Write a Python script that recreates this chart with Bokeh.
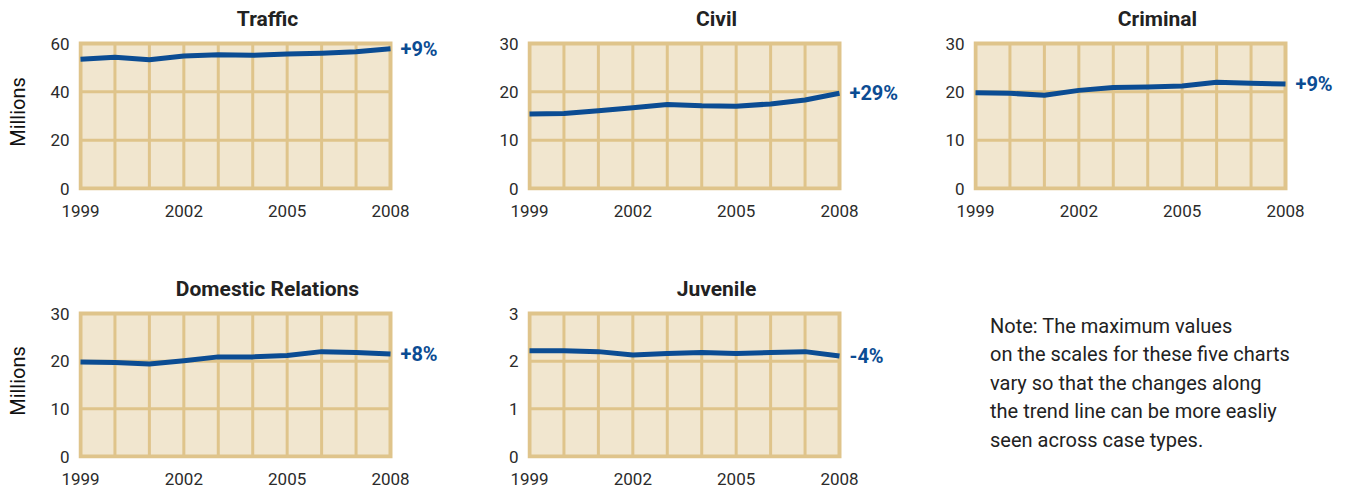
from bokeh.plotting import figure
from bokeh.models import Range1d, FixedTicker, Div
from bokeh.core.properties import value
from bokeh.layouts import row, column
from bokeh.embed import file_html
from bokeh.resources import INLINE

years = list(range(1999, 2009))
x_ticks = [1999, 2002, 2005, 2008]

titles = ["Traffic", "Civil", "Criminal", "Domestic Relations", "Juvenile"]
traffic = [53.5, 54.3, 53.3, 54.8, 55.3, 55.1, 55.7, 56.0, 56.6, 57.8]
civil = [15.4, 15.5, 16.1, 16.7, 17.4, 17.1, 17.0, 17.5, 18.3, 19.7]
criminal = [19.8, 19.7, 19.3, 20.3, 20.9, 21.0, 21.2, 22.0, 21.8, 21.6]
domestic = [19.8, 19.7, 19.4, 20.1, 20.9, 20.9, 21.2, 22.0, 21.8, 21.5]
juvenile = [2.22, 2.22, 2.20, 2.13, 2.16, 2.18, 2.16, 2.18, 2.20, 2.11]
y_max = [60, 30, 30, 30, 3]
y_ticks = [[0, 20, 40, 60], [0, 10, 20, 30], [0, 10, 20, 30], [0, 10, 20, 30], [0, 1, 2, 3]]
pct_change = ["+9%", "+29%", "+9%", "+8%", "-4%"]
y_label = "Millions"
note_lines = [
    "Note: The maximum values",
    "on the scales for these five charts",
    "vary so that the changes along",
    "the trend line can be more easliy",
    "seen across case types.",
]

FONT = "Roboto"
FILL = "#F1E6CF"
GRID = "#DFC48B"
BLUE = "#0B4C93"
TEXT = "#2b2b2b"

DATA_W = 310      # pixel width of the 1999-2008 box
PAD_L = 2         # frame space left of 1999
PAD_T = 10        # frame space above the box
PAD_B = 2         # frame space below the box


def make(title, values, ymax, yticks, pct, data_h, pad_r, bl, br, bt, bb, ylab):
    ppx = DATA_W / (years[-1] - years[0])
    ppy = data_h / ymax
    p = figure(frame_width=PAD_L + DATA_W + pad_r, frame_height=PAD_T + data_h + PAD_B,
               x_range=Range1d(years[0] - PAD_L / ppx, years[-1] + pad_r / ppx),
               y_range=Range1d(-PAD_B / ppy, ymax + PAD_T / ppy),
               output_backend="svg", toolbar_location=None,
               min_border_left=bl, min_border_right=br,
               min_border_top=bt, min_border_bottom=bb,
               title=title)
    p.background_fill_color = "white"
    p.border_fill_color = "white"
    p.outline_line_color = None
    p.xgrid.visible = False
    p.ygrid.visible = False

    p.title.align = "center"
    p.title.text_font = FONT
    p.title.text_font_size = "21px"
    p.title.text_font_style = "bold"
    p.title.text_color = "#222222"
    p.title.standoff = 5

    p.xaxis.ticker = FixedTicker(ticks=x_ticks)
    p.yaxis.ticker = FixedTicker(ticks=yticks)
    for ax in (p.xaxis, p.yaxis):
        ax.axis_line_color = None
        ax.major_tick_line_color = None
        ax.minor_tick_line_color = None
        ax.major_label_text_font = FONT
        ax.major_label_text_font_size = "17px"
        ax.major_label_text_color = TEXT
    p.xaxis.major_label_standoff = 8
    p.yaxis.major_label_standoff = 3
    if ylab:
        p.yaxis.axis_label = ylab
        p.yaxis.axis_label_text_font = FONT
        p.yaxis.axis_label_text_font_size = "20px"
        p.yaxis.axis_label_text_font_style = "normal"
        p.yaxis.axis_label_text_color = "#111111"
        p.yaxis.axis_label_standoff = 17

    x0, x1 = years[0], years[-1]
    # panel fill
    p.quad(left=[x0], right=[x1], bottom=[0], top=[ymax],
           fill_color=FILL, line_color=None)
    # inner grid lines
    inner_x = years[1:-1]
    p.segment(x0=inner_x, y0=[0] * len(inner_x), x1=inner_x, y1=[ymax] * len(inner_x),
              line_color=GRID, line_width=3)
    inner_y = yticks[1:-1]
    p.segment(x0=[x0] * len(inner_y), y0=inner_y, x1=[x1] * len(inner_y), y1=inner_y,
              line_color=GRID, line_width=3)
    # panel border
    p.quad(left=[x0], right=[x1], bottom=[0], top=[ymax],
           fill_color=None, line_color=GRID, line_width=4, line_join="miter")
    # trend line
    p.line(years, values, line_color=BLUE, line_width=5, line_join="round")
    # change label
    p.text(x=[years[-1]], y=[values[-1]], text=[pct], x_offset=10, y_offset=0,
           text_font=value(FONT), text_font_size="20px", text_font_style="bold",
           text_color=BLUE, text_baseline="middle", text_align="left")
    return p


series = [traffic, civil, criminal, domestic, juvenile]

p1 = make(titles[0], series[0], y_max[0], y_ticks[0], pct_change[0], 145, 66, 73, 10, 33, 70, y_label)
p2 = make(titles[1], series[1], y_max[1], y_ticks[1], pct_change[1], 145, 66, 61, 10, 33, 70, None)
p3 = make(titles[2], series[2], y_max[2], y_ticks[2], pct_change[2], 145, 56, 58, 0, 33, 70, None)
p4 = make(titles[3], series[3], y_max[3], y_ticks[3], pct_change[3], 143, 66, 73, 10, 43, 30, y_label)
p5 = make(titles[4], series[4], y_max[4], y_ticks[4], pct_change[4], 143, 66, 61, 10, 43, 30, None)

note_html = ("<div style=\"margin-left:70px;margin-top:47px;font-family:'%s';"
             "font-size:20px;line-height:28.4px;color:#222222;white-space:nowrap;\">%s</div>"
             % (FONT, "<br>".join(note_lines)))
note = Div(text=note_html, width=420, height=220)

layout = column(row(p1, p2, p3, margin=(0, 0, 0, 3)),
                row(p4, p5, note, margin=(0, 0, 0, 3)))

open("out.html", "w").write(file_html(layout, INLINE))
